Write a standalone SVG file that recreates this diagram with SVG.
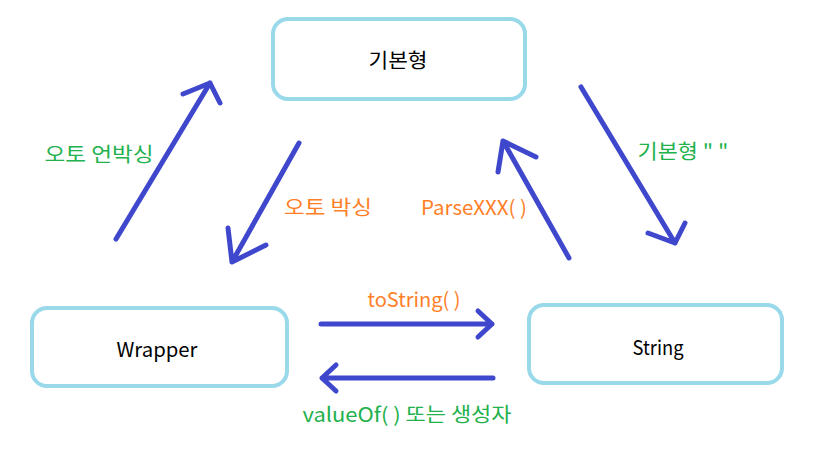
<svg xmlns="http://www.w3.org/2000/svg" width="820" height="462" viewBox="0 0 820 462">
<style>
.box{fill:#fff;stroke:#99D9EA;stroke-width:4}
.lbl{font-family:"Noto Sans CJK KR","Noto Sans",sans-serif;font-size:20px;text-anchor:middle;dominant-baseline:central}
.node{fill:#000}
.g{fill:#22B14C}
.o{fill:#FF7F27}
.ar{fill:none;stroke:#3F48CC;stroke-width:5;stroke-linecap:round;stroke-linejoin:round}
</style>
<rect width="820" height="462" fill="#fff"/>
<g id="node-basic"><rect class="box" x="273" y="19" width="252" height="80" rx="15"/><text class="lbl node" x="398" y="59" textLength="59" lengthAdjust="spacingAndGlyphs">기본형</text></g>
<g id="node-wrapper"><rect class="box" x="32" y="308" width="255" height="78" rx="15"/><text class="lbl node" x="157" y="348" textLength="81" lengthAdjust="spacingAndGlyphs">Wrapper</text></g>
<g id="node-string"><rect class="box" x="529" y="305" width="253" height="78" rx="15"/><text class="lbl node" x="658" y="346" textLength="51" lengthAdjust="spacingAndGlyphs">String</text></g>
<g id="connectors">
<path class="ar" d="M116,239 L210,83 M183,94 L210,83 L220,103"/>
<path class="ar" d="M299,143 L232,262 M228,228 L232,262 L266,245"/>
<path class="ar" d="M569,258 L503,141 M498,172 L503,141 L536,157"/>
<path class="ar" d="M581,87 L675,243 M648,233 L675,243 L685,223"/>
<path class="ar" d="M321,324 L492,324 M478,311 L492,324 L478,337"/>
<path class="ar" d="M493,378 L322,378 M336,365 L322,378 L336,391"/>
</g>
<g id="labels">
<text class="lbl g" x="99" y="153" textLength="109" lengthAdjust="spacingAndGlyphs">오토 언박싱</text>
<text class="lbl o" x="328" y="206" textLength="88" lengthAdjust="spacingAndGlyphs">오토 박싱</text>
<text class="lbl o" x="474" y="206" textLength="106" lengthAdjust="spacingAndGlyphs">ParseXXX( )</text>
<text class="lbl g" x="683" y="150" textLength="91" lengthAdjust="spacingAndGlyphs">기본형 " "</text>
<text class="lbl o" x="414" y="298" textLength="93" lengthAdjust="spacingAndGlyphs">toString( )</text>
<text class="lbl g" x="407" y="413" textLength="209" lengthAdjust="spacingAndGlyphs">valueOf( ) 또는 생성자</text>
</g>
</svg>
